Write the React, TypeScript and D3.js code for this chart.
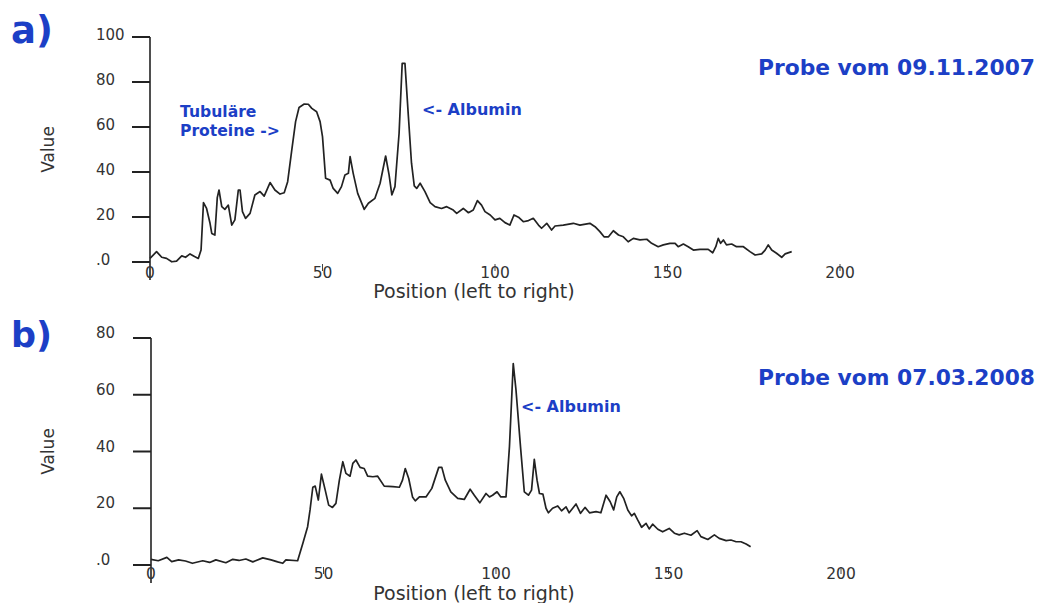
import React from "react";
import * as d3 from "d3";

// Densitometer trace, sample of 09.11.2007
const posA = [0,1.9,3.4,4.8,6.3,7.7,9.2,10.3,11.6,12.9,14,14.8,15.5,16.4,17.4,17.9,18.8,19.5,20,20.8,21.7,22.7,23.7,24.6,25.6,26.1,26.8,27.7,29,30.4,31.9,33.1,34.8,36.2,37.7,38.9,39.9,41.1,42.2,43.2,44.7,45.9,46.9,48.3,49.3,50,50.9,52.2,53.1,54.4,55.5,56.5,57.5,58,58.9,60.2,62.1,63.3,65.2,66.7,68.3,69.3,70.1,71,72.2,73.1,73.9,74.9,75.8,76.6,77.3,78.3,79.7,81.2,82.6,84.5,86,87.9,88.9,90.8,92.3,93.7,94.9,96.1,97.1,98.6,100,101.4,102.9,104.3,105.5,106.8,108.2,109.7,111.1,112.6,113.5,115,116.4,117.4,119.8,122.7,124.6,127.5,129,130.4,131.6,132.9,134.3,135.8,137.2,138.6,140.1,142,144,145.4,147.3,148.8,150.7,152.2,153.1,154.6,156,157.5,159.4,161.8,163.1,164,164.7,165.4,166.2,167.1,168.6,170,172,173.9,175.4,177.3,178.3,179.2,180.2,181.6,183.1,184.1,186];
const valA = [1.6,4.6,2.1,1.6,0.1,0.4,2.7,2.1,3.6,2.4,1.6,5.3,26.4,23.8,17.2,12.7,12,28.6,32,24.6,23.4,25.3,16.4,18.7,32,32,22.4,19.4,21.6,29.8,31.3,29.3,35.3,32,30.2,30.8,35.7,49.8,62.4,68.7,70.2,70.1,68.3,66.8,62.4,55.7,37.2,36.4,32.7,30.5,33.5,38.7,39.4,46.8,39.4,30.5,23.4,26.1,28.3,35,47.1,38.7,29.8,33.5,57.2,88.3,88.3,64.6,43.9,33.8,32.7,35,31.3,26.4,24.6,23.8,24.6,23.1,21.6,23.8,21.9,23.1,27.3,25.3,22.4,20.9,18.7,19.4,17.5,16.4,20.9,19.9,17.9,18.4,19.4,16.4,15,17.2,14.2,16,16.4,17.2,16.4,17.2,15.7,13.5,11.2,11.2,13.9,12,11.2,9,10.5,9.8,10.1,8.3,6.8,7.6,8.3,8.3,6.8,8,6.8,5.3,5.6,5.6,4.1,6.8,10.5,8.3,9.8,7.6,8,6.8,6.8,4.6,3.1,3.6,5.3,7.6,5.3,3.9,2.1,3.6,4.6];

// Densitometer trace, sample of 07.03.2008
const posB = [0,2.1,4.6,6,8,10,12,15,17,18.8,21.7,23.7,25.5,27.5,29.5,32.4,34.8,36.7,38.2,39.1,42.5,44,45.4,46.1,46.9,47.6,48.5,49.4,50.5,51.5,52.6,53.6,54.6,55.6,56.5,57.7,58.5,59.4,60.6,61.8,62.8,64.3,65.7,67.6,70.1,72,72.9,73.7,74.7,75.8,76.6,77.8,79.7,81.4,83.4,84.3,85.3,86.9,88.9,90.8,92.5,93.7,95.3,97.1,98.1,99,100.3,101.4,102.9,103.9,105,105.8,107.1,108.2,109.4,110.3,111.1,111.9,112.6,113.6,114.5,115.2,116.4,117.9,119,120.3,121.2,123.2,124.5,125.8,127.1,129,130.4,131.9,133.1,134.1,135,135.9,137,138.2,139.3,140.1,141.1,142.2,143.5,144.4,145.4,146.9,148.3,150.2,151.7,153.1,154.6,156.5,158.3,159.4,161.4,163.3,164.7,166.7,168.1,169.6,171,172.5,173.8];
const valB = [2,1.5,2.7,1.2,1.8,1.4,0.6,1.5,0.9,1.8,0.8,2,1.6,2.1,1.1,2.5,1.8,1.1,0.6,1.8,1.5,7.6,13.5,19.4,27.4,27.8,22.9,32,26.4,21.1,20.3,21.7,29.9,36.4,32.3,31.3,35.8,37,34.4,34,31.3,31.1,31.3,27.8,27.6,27.4,29.9,34,30.5,24,22.6,24,24,27,34.4,34.4,29.9,25.8,23.5,23.1,26.7,24.6,21.9,25.2,24,24.6,25.8,24,24,41.7,71,61.6,41.7,25.8,24.6,26.4,37.2,29.9,25.2,25,20,18.4,20,20.8,19.1,20.5,18.4,21.5,18.2,20.3,18.4,18.8,18.4,24.6,22.3,19.4,24,25.8,23.5,19.4,17.3,18.2,15.8,13.3,14.7,12.7,14.4,12.6,11.7,12.9,11.2,10.6,11.2,10.5,12.1,10,9,10.6,9.4,8.6,8.8,8.2,8.2,7.4,6.4];

const xTicks = [0, 50, 100, 150, 200];
const yTicksA = [0, 20, 40, 60, 80, 100];
const yTicksB = [0, 20, 40, 60, 80];
const xTitle = "Position (left to right)";
const yTitle = "Value";

const BLUE = "#1c3fc6";
const INK = "#222";
const AXIS_FONT = "'DejaVu Sans', sans-serif";

type PanelProps = {
  pos: number[];
  val: number[];
  yMax: number;
  yTicks: number[];
  top: number;
  bottom: number;
  left: number;
  labelOffset: number;
  xLabelGap: number;
  titleY: number;
};

function Panel({ pos, val, yMax, yTicks, top, bottom, left, labelOffset, xLabelGap, titleY }: PanelProps) {
  const x = d3.scaleLinear().domain([0, 200]).range([left, left + 690]);
  const y = d3.scaleLinear().domain([0, yMax]).range([bottom, top]);
  const pts: [number, number][] = pos.map((p, i) => [p, val[i]]);
  const line = d3
    .line<[number, number]>()
    .x((d) => x(d[0]))
    .y((d) => y(d[1]));
  const midY = (top + bottom) / 2;
  return (
    <g>
      {/* value axis */}
      <line x1={x(0)} x2={x(0)} y1={y(yMax)} y2={bottom + 18} stroke={INK} strokeWidth={1.6} />
      {yTicks.map((t) => (
        <g key={t}>
          <line x1={x(0) - 18} x2={x(0)} y1={y(t)} y2={y(t)} stroke={INK} strokeWidth={2} />
          <text
            x={96}
            y={y(t) - labelOffset}
            dominantBaseline="central"
            fontFamily={AXIS_FONT}
            fontSize={15}
            fill="#333"
          >
            {t === 0 ? ".0" : t}
          </text>
        </g>
      ))}
      {/* position ticks */}
      {xTicks.map((t) => (
        <g key={t}>
          {t !== 0 && <line x1={x(t)} x2={x(t)} y1={bottom + 2} y2={bottom + 9} stroke="#444" strokeWidth={1} />}
          <text
            x={x(t)}
            y={bottom + xLabelGap}
            dominantBaseline="central"
            textAnchor="middle"
            fontFamily={AXIS_FONT}
            fontSize={15.5}
            fill="#333"
          >
            {t}
          </text>
        </g>
      ))}
      <text x={474} y={titleY} textAnchor="middle" fontFamily={AXIS_FONT} fontSize={19} fill="#333">
        {xTitle}
      </text>
      <text
        transform={`translate(54,${midY}) rotate(-90)`}
        textAnchor="middle"
        fontFamily={AXIS_FONT}
        fontSize={17}
        fill="#333"
      >
        {yTitle}
      </text>
      <path d={line(pts) ?? ""} fill="none" stroke={INK} strokeWidth={1.7} strokeLinejoin="round" />
    </g>
  );
}

export default function App() {
  const blue = { fontFamily: "'DejaVu Sans', sans-serif", fontWeight: 700, fill: BLUE } as const;
  return (
    <svg
      width={1040}
      height={603}
      viewBox="0 0 1040 603"
      style={{ position: "absolute", left: 0, top: 0, background: "#fff" }}
    >
      <rect width={1040} height={603} fill="#fff" />
      <Panel pos={posA} val={valA} yMax={100} yTicks={yTicksA} top={37} bottom={262} left={150} labelOffset={2} xLabelGap={11} titleY={298} />
      <Panel pos={posB} val={valB} yMax={80} yTicks={yTicksB} top={338} bottom={565} left={151} labelOffset={5} xLabelGap={9} titleY={600} />

      <text x={11} y={43} fontSize={37} {...blue}>a)</text>
      <text x={11} y={347} fontSize={35} {...blue}>b)</text>

      <text x={1035} y={75} textAnchor="end" fontSize={21.8} {...blue}>Probe vom 09.11.2007</text>
      <text x={1035} y={385} textAnchor="end" fontSize={21.8} {...blue}>Probe vom 07.03.2008</text>

      <text x={180} y={117} fontSize={15.6} {...blue}>Tubuläre</text>
      <text x={180} y={136} fontSize={15.6} {...blue}>Proteine -&gt;</text>
      <text x={422} y={115} fontSize={16} {...blue}>&lt;- Albumin</text>
      <text x={521} y={412} fontSize={16} {...blue}>&lt;- Albumin</text>
    </svg>
  );
}
